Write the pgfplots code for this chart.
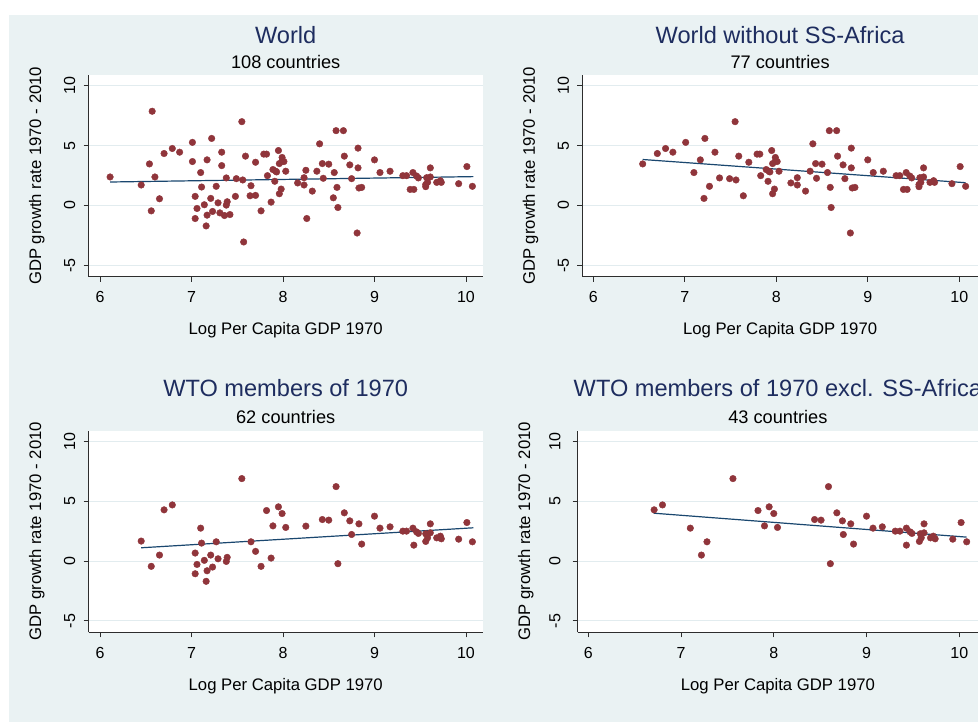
\documentclass[border=0pt]{standalone}
\usepackage{fontspec}
\setmainfont{Liberation Sans}
\usepackage{pgfplots}
\usepackage{pgfplotstable}
\pgfplotsset{compat=1.18}

\definecolor{bgc}{RGB}{234,242,243}
\definecolor{gridc}{RGB}{226,236,239}
\definecolor{dotc}{RGB}{144,53,59}
\definecolor{fitc}{RGB}{26,71,111}
\definecolor{titc}{RGB}{30,45,95}
\definecolor{axc}{RGB}{45,45,45}

\newcommand\fs[1]{\fontsize{#1}{#1}\selectfont}

% x = log per capita GDP 1970, y = GDP growth rate 1970-2010
\pgfplotstableread{
x y
6.11 2.38
6.57 7.87
6.45 1.71
6.54 3.47
6.60 2.38
6.56 -0.45
6.65 0.56
6.70 4.34
6.79 4.76
6.87 4.45
7.01 5.27
7.01 3.67
7.10 2.75
7.04 0.76
7.06 -0.25
7.04 -1.09
7.11 1.54
7.17 3.81
7.22 5.60
7.14 0.06
7.16 -1.71
7.17 -0.81
7.21 0.59
7.23 -0.50
7.27 1.60
7.29 0.22
7.31 -0.62
7.33 4.45
7.33 3.33
7.36 -0.84
7.38 0.03
7.39 0.31
7.38 2.30
7.42 -0.76
7.48 0.76
7.49 2.24
7.55 7.00
7.56 2.13
7.57 -3.05
7.59 4.12
7.65 1.65
7.64 0.81
7.70 0.84
7.70 3.61
7.76 -0.45
7.79 4.29
7.82 4.29
7.83 2.49
7.87 0.28
7.89 3.00
7.92 2.86
7.91 2.02
7.93 2.80
7.95 4.59
7.96 3.50
7.99 4.01
8.01 3.67
7.99 3.70
8.03 2.86
7.98 1.37
7.96 0.98
8.16 1.88
8.23 1.71
8.23 2.32
8.25 2.94
8.26 -1.09
8.32 1.20
8.37 2.86
8.40 5.15
8.43 3.50
8.44 2.27
8.50 3.45
8.55 0.64
8.56 2.75
8.58 6.25
8.66 6.25
8.59 1.51
8.60 -0.17
8.67 4.12
8.73 3.39
8.75 2.24
8.82 4.79
8.82 3.14
8.81 -2.30
8.83 1.46
8.86 1.51
9.00 3.81
9.06 2.75
9.17 2.86
9.31 2.49
9.35 2.49
9.42 2.75
9.39 1.34
9.43 1.34
9.46 2.46
9.48 2.30
9.56 1.57
9.57 2.32
9.61 2.38
9.61 3.14
9.58 1.93
9.68 1.93
9.72 2.07
9.73 1.93
9.92 1.82
10.01 3.25
10.07 1.60
9.56 1.75
}\world

\pgfplotstableread{
x y
6.54 3.47
6.70 4.34
6.79 4.76
6.87 4.45
7.01 5.27
7.17 3.81
7.10 2.75
7.22 5.60
7.33 4.45
7.27 1.60
7.21 0.59
7.38 2.30
7.49 2.24
7.56 2.13
7.55 7.00
7.59 4.12
7.64 0.81
7.70 3.61
7.79 4.29
7.82 4.29
7.83 2.49
7.89 3.00
7.92 2.86
7.93 2.80
7.91 2.02
7.95 4.59
7.99 4.01
8.01 3.67
7.99 3.70
7.96 3.50
8.03 2.86
7.98 1.37
7.96 0.98
8.16 1.88
8.23 1.71
8.23 2.32
8.32 1.20
8.37 2.86
8.40 5.15
8.43 3.50
8.44 2.27
8.50 3.45
8.56 2.75
8.58 6.25
8.66 6.25
8.59 1.51
8.60 -0.17
8.67 4.12
8.73 3.39
8.75 2.24
8.82 4.79
8.82 3.14
8.81 -2.30
8.83 1.46
8.86 1.51
9.00 3.81
9.06 2.75
9.17 2.86
9.31 2.49
9.35 2.49
9.42 2.75
9.39 1.34
9.43 1.34
9.46 2.46
9.48 2.30
9.56 1.57
9.57 2.32
9.61 2.38
9.61 3.14
9.58 1.93
9.68 1.93
9.72 2.07
9.73 1.93
9.92 1.82
10.01 3.25
10.07 1.60
9.56 1.75
}\worldnoss

\pgfplotstableread{
x y
6.45 1.67
6.56 -0.44
6.65 0.50
6.70 4.28
6.79 4.69
7.10 2.75
7.04 0.67
7.06 -0.28
7.04 -1.06
7.11 1.50
7.14 0.06
7.16 -1.69
7.17 -0.81
7.21 0.50
7.23 -0.50
7.27 1.61
7.29 0.19
7.38 -0.03
7.39 0.31
7.55 6.89
7.65 1.61
7.70 0.81
7.76 -0.44
7.82 4.22
7.87 0.25
7.89 2.94
7.95 4.53
7.99 3.97
8.03 2.81
8.25 2.92
8.43 3.47
8.50 3.42
8.58 6.22
8.60 -0.22
8.67 4.03
8.73 3.36
8.75 2.22
8.83 3.11
8.86 1.42
9.00 3.75
9.06 2.75
9.17 2.86
9.31 2.50
9.35 2.50
9.42 2.75
9.43 1.33
9.46 2.44
9.48 2.31
9.56 1.64
9.56 2.28
9.61 2.36
9.61 3.11
9.58 1.94
9.68 1.94
9.72 2.08
9.73 1.86
9.92 1.83
10.01 3.22
10.07 1.61
}\wto

\pgfplotstableread{
x y
6.71 4.28
6.80 4.69
7.10 2.75
7.28 1.61
7.22 0.50
7.56 6.89
7.83 4.22
7.90 2.94
7.95 4.53
8.00 3.97
8.04 2.81
8.44 3.47
8.51 3.42
8.59 6.22
8.61 -0.22
8.68 4.03
8.74 3.36
8.75 2.22
8.83 3.11
8.86 1.42
9.00 3.75
9.07 2.75
9.17 2.86
9.31 2.50
9.36 2.50
9.43 2.75
9.43 1.33
9.47 2.44
9.49 2.31
9.57 1.64
9.58 2.28
9.62 2.36
9.62 3.11
9.59 1.94
9.69 1.94
9.72 2.08
9.74 1.86
9.93 1.83
10.02 3.22
10.08 1.61
}\wtonoss

\pgfplotsset{
  panel/.style={
    scale only axis, anchor=south west, height=201.7pt,
    ymin=-5.95, ymax=10.9,
    axis x line*=bottom, axis y line*=left,
    axis line style={-, line width=0.9pt, axc},
    xtick={6,7,8,9,10}, ytick={-5,0,5,10},
    tick align=outside, major tick length=5pt,
    major tick style={line width=0.9pt, axc},
    ymajorgrids, major grid style={line width=1pt, gridc},
    axis background/.style={fill=white},
    /pgf/number format/assume math mode=true,
    tick label style={font=\fs{16}, inner sep=0pt},
    xticklabel style={anchor=north},
    yticklabel style={rotate=90, anchor=south},
    xticklabel shift=9.5pt, yticklabel shift=8pt,
  },
  dots/.style={only marks, mark=*, mark size=3.3pt, dotc,
    mark options={draw=dotc, fill=dotc}},
  fitl/.style={no marks, fitc, line width=1.2pt},
}

\begin{document}
\begin{tikzpicture}
\useasboundingbox (0pt,0pt) rectangle (978pt,722pt);
\fill[white] (0pt,0pt) rectangle (978pt,722pt);
\fill[bgc] (9pt,0pt) rectangle (978pt,707pt);

% World
\begin{axis}[panel, at={(88.5pt,445.3pt)}, width=394.5pt, xmin=5.874, xmax=10.186]
\addplot[dots] table {\world};
\addplot[fitl] coordinates {(6.11,1.96) (10.08,2.41)};
\end{axis}

% World without SS-Africa
\begin{axis}[panel, at={(582.3pt,445.3pt)}, width=395.7pt, xmin=5.880, xmax=10.205]
\addplot[dots] table {\worldnoss};
\addplot[fitl] coordinates {(6.54,3.84) (10.07,1.90)};
\end{axis}

% WTO members of 1970
\begin{axis}[panel, at={(88.5pt,89.7pt)}, width=394.5pt, xmin=5.874, xmax=10.186]
\addplot[dots] table {\wto};
\addplot[fitl] coordinates {(6.45,1.11) (10.08,2.78)};
\end{axis}

% WTO members of 1970 excl. SS-Africa
\begin{axis}[panel, at={(577.7pt,89.7pt)}, width=400.3pt, xmin=5.886, xmax=10.202,
  yticklabel shift=12pt]
\addplot[dots] table {\wtonoss};
\addplot[fitl] coordinates {(6.705,4.00) (10.08,2.00)};
\end{axis}

% titles and subtitles
\node[anchor=base, font=\fs{23.6}, text=titc] at (285.7pt,678.7pt) {World};
\node[anchor=base, font=\fs{18.2}] at (285.7pt,653pt) {108 countries};
\node[anchor=base, font=\fs{23.6}, text=titc] at (780.1pt,678.7pt) {World without SS-Africa};
\node[anchor=base, font=\fs{18.2}] at (780.1pt,653pt) {77 countries};
\node[anchor=base, font=\fs{23.6}, text=titc] at (285.7pt,325.3pt) {WTO members of 1970};
\node[anchor=base, font=\fs{18.2}] at (285.7pt,298.7pt) {62 countries};
\node[anchor=base, font=\fs{23.6}, text=titc] at (777.9pt,325.3pt) {WTO members of 1970 excl. SS-Africa};
\node[anchor=base, font=\fs{18.2}] at (777.9pt,298.7pt) {43 countries};

% axis titles
\node[anchor=base, font=\fs{16.7}] at (285.7pt,387pt) {Log Per Capita GDP 1970};
\node[anchor=base, font=\fs{16.7}] at (780.1pt,387pt) {Log Per Capita GDP 1970};
\node[anchor=base, font=\fs{16.7}] at (285.7pt,31.3pt) {Log Per Capita GDP 1970};
\node[anchor=base, font=\fs{16.7}] at (777.9pt,31.3pt) {Log Per Capita GDP 1970};
\node[rotate=90, anchor=base, font=\fs{16.7}] at (41pt,546.2pt) {GDP growth rate 1970 - 2010};
\node[rotate=90, anchor=base, font=\fs{16.7}] at (534.8pt,546.2pt) {GDP growth rate 1970 - 2010};
\node[rotate=90, anchor=base, font=\fs{16.7}] at (41pt,190.9pt) {GDP growth rate 1970 - 2010};
\node[rotate=90, anchor=base, font=\fs{16.7}] at (530pt,190.9pt) {GDP growth rate 1970 - 2010};
\end{tikzpicture}
\end{document}
